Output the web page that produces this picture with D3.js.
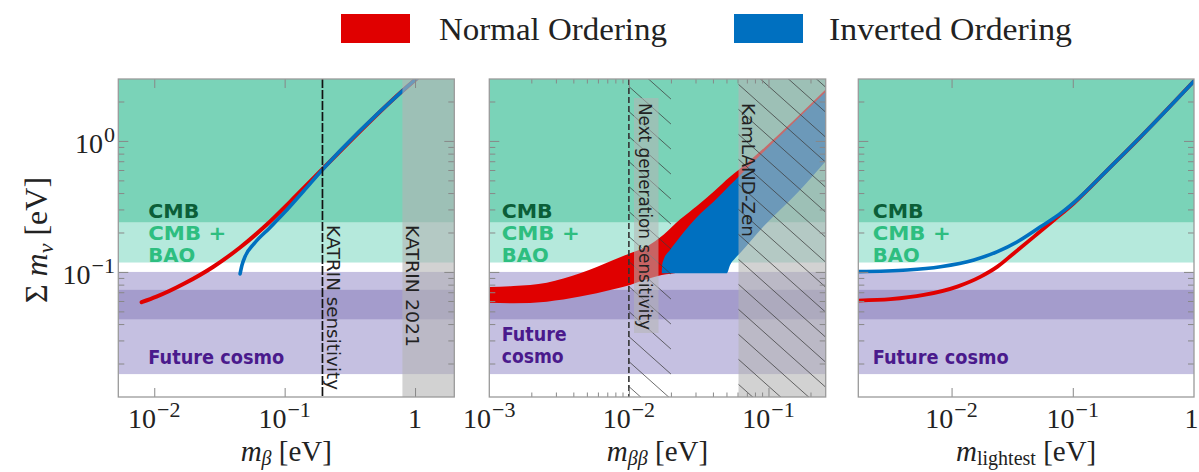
<!DOCTYPE html>
<html><head><meta charset="utf-8">
<script src="https://cdn.jsdelivr.net/npm/d3@7"></script>
<style>body{margin:0;background:#fff}</style>
</head><body>
<svg id="chart" width="1199" height="472"></svg>
<script>
// ---------------- DATA ----------------
const legendLabels = ["Normal Ordering", "Inverted Ordering"];
const yDomain = [0.0111, 2.97];
const yMajorTicks = [0.1, 1];
const yMajorExps = ["\u22121", "0"];
const yMinorTicks = [0.02,0.03,0.04,0.05,0.06,0.07,0.08,0.09,0.2,0.3,0.4,0.5,0.6,0.7,0.8,0.9,2];

// cosmology bands (eV): CMB, CMB+BAO, Future cosmo, Future cosmo core
const bandLower = [0.2377, 0.118, 0.0166, 0.0435];
const bandUpper = [5.0, 0.2377, 0.100, 0.073];

// panel 1: m_beta
const p1Domain = [0.0053, 2.0];
const p1Ticks = [0.01, 0.1, 1];
const p1TickExps = ["\u22122", "\u22121", null];
const mbNO  = [0.0080,0.0104,0.0170,0.0284,0.0455,0.0730,0.110,0.193,0.79,1.03];
const sumNO1 = [0.0587,0.0647,0.0815,0.1096,0.1536,0.230,0.343,0.603,2.38,3.0];
const mbIO  = [0.0455,0.0471,0.0497,0.0585,0.0760,0.100,0.140,0.193,0.79,1.03];
const sumIO1 = [0.0966,0.113,0.131,0.165,0.215,0.285,0.415,0.597,2.38,3.0];
const katrinSensitivity = 0.195;
const katrin2021 = 0.8;

// panel 2: m_beta_beta
const p2Domain = [0.001, 0.257];
const p2Ticks = [0.001, 0.01, 0.1];
const p2TickExps = ["\u22123", "\u22122", "\u22121"];
const p2MinorTicks = [0.002,0.003,0.004,0.005,0.006,0.007,0.008,0.009,0.02,0.03,0.04,0.05,0.06,0.07,0.08,0.09,0.2];
const noUpMbb = [0.001,0.00149,0.00258,0.00447,0.00774,0.0102,0.0134,0.0177,0.0233,0.0307,0.0404,0.0531,0.0610,0.2576];
const noUpSum = [0.0768,0.0782,0.0828,0.0977,0.1235,0.139,0.156,0.192,0.252,0.319,0.410,0.534,0.601,2.48];
const noLoMbb = [0.001,0.00149,0.00258,0.00447,0.00774,0.0102,0.0134,0.0172,0.0233,0.0325,0.0607,0.121,0.2576];
const noLoSum = [0.0583,0.0577,0.0593,0.0648,0.0738,0.0796,0.088,0.0948,0.100,0.119,0.191,0.355,0.782];
const ioUpMbb = [0.0172,0.0173,0.0177,0.0197,0.0233,0.0307,0.0404,0.0531,0.0610,0.2576];
const ioUpSum = [0.0977,0.111,0.1235,0.147,0.186,0.262,0.344,0.461,0.534,2.37];
const ioLoMbb = [0.0172,0.0503,0.0531,0.0577,0.0627,0.092,0.160,0.2576];
const ioLoSum = [0.0977,0.0977,0.113,0.127,0.1396,0.222,0.399,0.703];
const nextGenBand = [0.01, 0.02];
const kamlandLimit = 0.061;

// panel 3: m_lightest
const p3Domain = [0.0017, 1.0];
const p3Ticks = [0.01, 0.1, 1];
const p3TickExps = ["\u22122", "\u22121", null];
const mlNO  = [0.00171,0.00313,0.0059,0.01115,0.0174,0.0239,0.0327,0.0479,0.070,0.1025,0.1936,0.365,1.02];
const sumNO3 = [0.0604,0.0619,0.0667,0.0773,0.0921,0.1097,0.139,0.186,0.249,0.336,0.601,1.08,2.92];
const mlIO  = [0.00171,0.00431,0.0081,0.0153,0.0239,0.0349,0.0545,0.0796,0.1025,0.1936,0.365,1.02];
const sumIO3 = [0.1005,0.1035,0.1097,0.1235,0.143,0.170,0.222,0.281,0.340,0.601,1.08,2.92];

// ---------------- STYLE ----------------
const RED = "#e00000", BLUE = "#0070c0";
const bandColors = ["#7ad3b8", "#b5e9dc", "#c5c0e1", "#a49ccc"];
const SERIF = "'Liberation Serif','Times New Roman',serif";
const SANS = "'DejaVu Sans',sans-serif";

const svg = d3.select("#chart");
const defs = svg.append("defs");
const Y0 = 79, Y1 = 397;
const y = d3.scaleLog().domain(yDomain).range([Y1, Y0]);

const PANELS = [
  {x0:118.3, x1:454.3, dom:p1Domain},
  {x0:489.3, x1:825.7, dom:p2Domain},
  {x0:858.3, x1:1194,  dom:p3Domain}
];
PANELS.forEach((p, i) => {
  p.x = d3.scaleLog().domain(p.dom).range([p.x0, p.x1]);
  defs.append("clipPath").attr("id", "clip" + i).append("rect")
    .attr("x", p.x0).attr("y", Y0).attr("width", p.x1 - p.x0).attr("height", Y1 - Y0);
  p.g = svg.append("g").attr("clip-path", `url(#clip${i})`);
});

// hatch pattern
const HW = 28, HH = 25;
const pat = defs.append("pattern").attr("id", "hatch").attr("patternUnits", "userSpaceOnUse")
  .attr("width", HW).attr("height", HH);
pat.append("path").attr("d", `M-2,${-2*HH/HW}L${HW+2},${HH+2*HH/HW}M0,${-HH}L${HW},0M${-HW},0L0,${HH}`)
  .attr("stroke", "#3a3a3a").attr("stroke-width", 1).attr("stroke-opacity", 0.75);

// bands
const bands = bandLower.map((lo, k) => ({lo, hi: bandUpper[k], c: bandColors[k]}));
PANELS.forEach(p => {
  p.g.selectAll("rect.band").data(bands).join("rect").attr("class", "band")
    .attr("x", p.x0).attr("width", p.x1 - p.x0)
    .attr("y", d => y(d.hi)).attr("height", d => y(d.lo) - y(d.hi))
    .attr("fill", d => d.c);
});

const lineGen = xs => d3.line().x(d => xs(d[0])).y(d => y(d[1])).curve(d3.curveMonotoneX);

// ---- panel 1 ----
{
  const p = PANELS[0], g = p.g, lg = lineGen(p.x);
  g.append("path").attr("d", lg(d3.zip(mbNO, sumNO1))).attr("fill", "none")
    .attr("stroke", RED).attr("stroke-width", 4).attr("stroke-linecap", "round");
  g.append("path").attr("d", lg(d3.zip(mbIO, sumIO1))).attr("fill", "none")
    .attr("stroke", BLUE).attr("stroke-width", 3.6).attr("stroke-linecap", "round");
  g.append("rect").attr("x", p.x(katrin2021)).attr("y", Y0).attr("width", p.x1 - p.x(katrin2021))
    .attr("height", Y1 - Y0).attr("fill", "#b4b4b4").attr("fill-opacity", 0.6);
  g.append("line").attr("x1", p.x(katrinSensitivity)).attr("x2", p.x(katrinSensitivity))
    .attr("y1", Y0).attr("y2", Y1).attr("stroke", "#111").attr("stroke-width", 1.7)
    .attr("stroke-dasharray", "9,2");
}

// ---- panel 2 ----
function bandPath(xs, upX, upY, loX, loY) {
  const lg = lineGen(xs);
  const up = lg(d3.zip(upX, upY));
  const lo = lg(d3.zip(loX.slice().reverse(), loY.slice().reverse()));
  return up + "L" + lo.slice(1) + "Z";
}
{
  const p = PANELS[1], g = p.g;
  g.append("path").attr("d", bandPath(p.x, noUpMbb, noUpSum, noLoMbb, noLoSum)).attr("fill", RED);
  g.append("path").attr("d", bandPath(p.x, ioUpMbb, ioUpSum, ioLoMbb, ioLoSum)).attr("fill", BLUE);
  // KamLAND-Zen excluded
  g.append("rect").attr("x", p.x(kamlandLimit)).attr("y", Y0).attr("width", p.x1 - p.x(kamlandLimit))
    .attr("height", Y1 - Y0).attr("fill", "#b4b4b4").attr("fill-opacity", 0.6);
  // hatching
  g.append("rect").attr("x", p.x(nextGenBand[0])).attr("y", Y0)
    .attr("width", p.x(nextGenBand[1]) - p.x(nextGenBand[0])).attr("height", Y1 - Y0).attr("fill", "url(#hatch)");
  g.append("rect").attr("x", p.x(kamlandLimit)).attr("y", Y0)
    .attr("width", p.x1 - p.x(kamlandLimit)).attr("height", Y1 - Y0).attr("fill", "url(#hatch)");
  // label box
  g.append("rect").attr("x", 634).attr("y", 98).attr("width", 24.5).attr("height", 235)
    .attr("fill", "#b4b4b4").attr("fill-opacity", 0.55);
  g.append("line").attr("x1", p.x(nextGenBand[0])).attr("x2", p.x(nextGenBand[0]))
    .attr("y1", Y0).attr("y2", Y1).attr("stroke", "#333").attr("stroke-width", 1.6)
    .attr("stroke-dasharray", "6,3");
}

// ---- panel 3 ----
{
  const p = PANELS[2], g = p.g, lg = lineGen(p.x);
  g.append("path").attr("d", lg(d3.zip(mlNO, sumNO3))).attr("fill", "none")
    .attr("stroke", RED).attr("stroke-width", 3.8).attr("stroke-linecap", "round");
  g.append("path").attr("d", lg(d3.zip(mlIO, sumIO3))).attr("fill", "none")
    .attr("stroke", BLUE).attr("stroke-width", 3.6).attr("stroke-linecap", "round");
}

// ---- rotated labels ----
function vtext(x, yy, txt, size, len) {
  svg.append("text").attr("transform", `translate(${x},${yy}) rotate(90)`)
    .attr("font-family", SANS).attr("font-size", size).attr("fill", "#222")
    .attr("textLength", len).attr("lengthAdjust", "spacingAndGlyphs").text(txt);
}
vtext(327, 225, "KATRIN sensitivity", 18, 165);
vtext(406, 225, "KATRIN 2021", 18.5, 122);
vtext(639, 103, "Next generation sensitivity", 17, 227);
vtext(742, 103, "KamLAND-Zen", 18, 134);

// ---- cosmology labels ----
function ctext(x, yy, txt, color, len) {
  svg.append("text").attr("x", x).attr("y", yy).attr("font-family", SANS).attr("font-weight", "bold")
    .attr("font-size", 19.5).attr("fill", color)
    .attr("textLength", len).attr("lengthAdjust", "spacingAndGlyphs").text(txt);
}
const cmbDark = "#0b5e38", cmbLight = "#2ebe80", futCol = "#4a1a8c";
[148.3, 501.7, 872.7].forEach((x, i) => {
  ctext(x, 218, "CMB", cmbDark, 51);
  ctext(x, 240, "CMB +", cmbLight, 78);
  ctext(x, 262, "BAO", cmbLight, 47);
  if (i === 1) {
    ctext(x, 341, "Future", futCol, 65);
    ctext(x, 363, "cosmo", futCol, 62);
  } else {
    ctext(x, 364, "Future cosmo", futCol, 136);
  }
});

// ---- frames & ticks ----
function ticks(scale, orient, vals, len, tx, ty) {
  const A = {left: d3.axisLeft, right: d3.axisRight, top: d3.axisTop, bottom: d3.axisBottom}[orient];
  const ax = A(scale).tickValues(vals).tickSizeInner(-len).tickSizeOuter(0).tickFormat("");
  const gg = svg.append("g").attr("transform", `translate(${tx},${ty})`).call(ax);
  gg.select(".domain").remove();
  gg.selectAll("line").attr("stroke", "#888").attr("stroke-width", 1);
}
const xMajors = [p1Ticks.filter(v => v < 1.5), [0.01, 0.1], [0.01, 0.1]];
const xMinors = [[], p2MinorTicks, []];
PANELS.forEach((p, i) => {
  ticks(y, "left", yMajorTicks, 10, p.x0, 0);
  ticks(y, "left", yMinorTicks, 6, p.x0, 0);
  ticks(y, "right", yMajorTicks, 10, p.x1, 0);
  ticks(y, "right", yMinorTicks, 6, p.x1, 0);
  ticks(p.x, "bottom", xMajors[i], 9, 0, Y1);
  ticks(p.x, "top", xMajors[i], 9, 0, Y0);
  if (xMinors[i].length) {
    ticks(p.x, "bottom", xMinors[i], 4.5, 0, Y1);
    ticks(p.x, "top", xMinors[i], 4.5, 0, Y0);
  }
  svg.append("rect").attr("x", p.x0).attr("y", Y0).attr("width", p.x1 - p.x0).attr("height", Y1 - Y0)
    .attr("fill", "none").attr("stroke", "#9a9a9a").attr("stroke-width", 1.3);
});

// ---- tick labels ----
function powLabel(x, yy, exp, anchor) {
  const t = svg.append("text").attr("x", x).attr("y", yy).attr("text-anchor", anchor)
    .attr("font-family", SERIF).attr("font-size", 28).attr("fill", "#222");
  if (exp === null) { t.text("1"); return; }
  t.append("tspan").text("10");
  t.append("tspan").attr("dy", -11).attr("dx", 1).attr("font-size", 22).text(exp);
}
yMajorTicks.forEach((v, k) => powLabel(115, y(v) + 12, yMajorExps[k], "end"));
[[p1Ticks, p1TickExps], [p2Ticks, p2TickExps], [p3Ticks, p3TickExps]].forEach(([vals, exps], i) => {
  vals.forEach((v, k) => powLabel(Math.min(PANELS[i].x(v), 1191.5), 428, exps[k], "middle"));
});

// ---- axis titles ----
function xTitle(cx, sub, subItalic) {
  const t = svg.append("text").attr("x", cx).attr("y", 461).attr("text-anchor", "middle")
    .attr("font-family", SERIF).attr("font-size", 29).attr("fill", "#222");
  t.append("tspan").attr("font-style", "italic").text("m");
  t.append("tspan").attr("font-size", 20).attr("dy", 4).attr("font-style", subItalic ? "italic" : "normal").text(sub);
  t.append("tspan").attr("dy", -4).text(" [eV]");
}
xTitle((PANELS[0].x0 + PANELS[0].x1) / 2, "\u03b2", true);
xTitle((PANELS[1].x0 + PANELS[1].x1) / 2, "\u03b2\u03b2", true);
xTitle((PANELS[2].x0 + PANELS[2].x1) / 2, "lightest", false);
{
  const t = svg.append("text").attr("transform", "translate(47,240) rotate(-90)").attr("text-anchor", "middle")
    .attr("font-family", SERIF).attr("font-size", 32).attr("fill", "#222");
  t.append("tspan").text("\u03a3 ");
  t.append("tspan").attr("font-style", "italic").text("m");
  t.append("tspan").attr("font-size", 22).attr("dy", 6).attr("font-style", "italic").text("\u03bd");
  t.append("tspan").attr("dy", -6).text(" [eV]");
}

// ---- legend ----
const legX = [341, 734], legTX = [439, 829], legLen = [228, 243], legCol = [RED, BLUE];
legendLabels.forEach((lab, i) => {
  svg.append("rect").attr("x", legX[i]).attr("y", 14).attr("width", 69).attr("height", 29).attr("fill", legCol[i]);
  svg.append("text").attr("x", legTX[i]).attr("y", 40).attr("font-family", SERIF).attr("font-size", 31)
    .attr("fill", "#222").attr("textLength", legLen[i]).attr("lengthAdjust", "spacingAndGlyphs").text(lab);
});
</script>
</body></html>
